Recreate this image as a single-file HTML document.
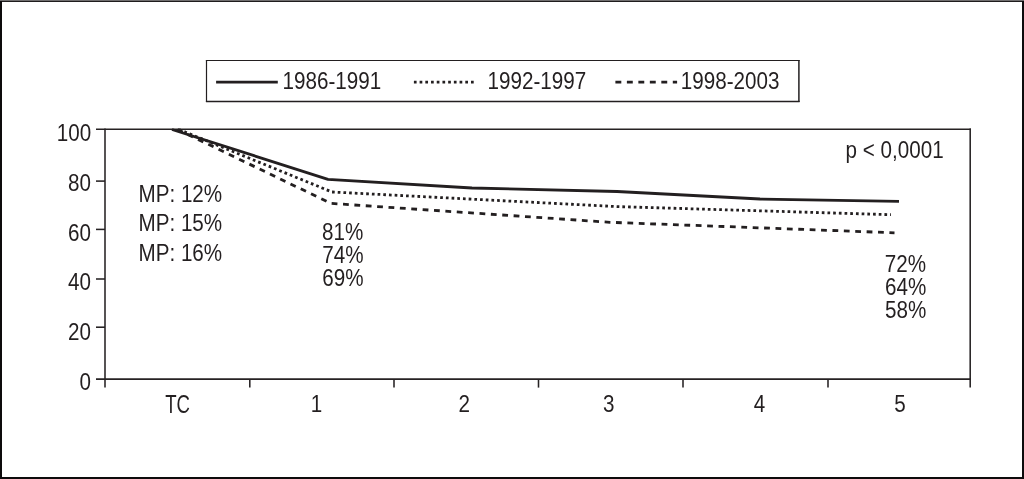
<!DOCTYPE html>
<html><head><meta charset="utf-8"><style>
html,body{margin:0;padding:0;background:#fff;width:1024px;height:479px;overflow:hidden}
svg{display:block;will-change:transform}
text{font-family:"Liberation Sans",sans-serif;font-size:24.4px;fill:#231f20}
</style></head><body>
<svg width="1024" height="479" viewBox="0 0 1024 479">
<rect x="0" y="0" width="1024" height="479" fill="#fff"/>
<!-- outer frame -->
<rect x="0" y="0" width="1024" height="1" fill="#706e6f"/>
<rect x="0" y="1" width="1024" height="1" fill="#1f1c1d"/>
<rect x="0" y="1" width="2" height="478" fill="#0d0b0c"/>
<rect x="1022" y="1" width="2" height="478" fill="#0d0b0c"/>
<rect x="0" y="477" width="1024" height="2" fill="#0d0b0c"/>

<!-- legend box -->
<g stroke="#231f20" fill="none">
<line x1="205.9" y1="60.5" x2="799.6" y2="60.5" stroke-width="1.2"/>
<line x1="205.9" y1="101.5" x2="799.6" y2="101.5" stroke-width="1.3"/>
<line x1="206.5" y1="60" x2="206.5" y2="102" stroke-width="1.2"/>
<line x1="798.9" y1="60" x2="798.9" y2="102" stroke-width="1.5"/>
</g>
<line x1="216.1" y1="82.1" x2="277.8" y2="82.1" stroke="#231f20" stroke-width="2.8"/>
<line x1="413.9" y1="82.2" x2="474.4" y2="82.2" stroke="#231f20" stroke-width="2.7" stroke-dasharray="2.7 3.01"/>
<line x1="615.4" y1="82.2" x2="677.1" y2="82.2" stroke="#231f20" stroke-width="2.7" stroke-dasharray="5.9 5.58"/>
<g transform="translate(282.5,89) scale(0.846,1)"><text x="0" y="0">1986-1991</text></g>
<g transform="translate(487.5,89) scale(0.846,1)"><text x="0" y="0">1992-1997</text></g>
<g transform="translate(680.8,89) scale(0.846,1)"><text x="0" y="0">1998-2003</text></g>

<!-- plot box & axes -->
<g stroke="#262223" fill="none" stroke-width="1.55">
<line x1="96" y1="129.15" x2="971" y2="129.15"/>
<line x1="970.2" y1="128.4" x2="970.2" y2="387.6"/>
<line x1="105" y1="128.4" x2="105" y2="387.6"/>
<line x1="96" y1="379.1" x2="971" y2="379.1"/>
<line x1="96" y1="181.1" x2="105" y2="181.1"/>
<line x1="96" y1="229.4" x2="105" y2="229.4"/>
<line x1="96" y1="279" x2="105" y2="279"/>
<line x1="96" y1="327.2" x2="105" y2="327.2"/>
<line x1="249.8" y1="379" x2="249.8" y2="387.6"/>
<line x1="394" y1="379" x2="394" y2="387.6"/>
<line x1="538.5" y1="379" x2="538.5" y2="387.6"/>
<line x1="683" y1="379" x2="683" y2="387.6"/>
<line x1="828" y1="379" x2="828" y2="387.6"/>
</g>

<!-- y labels -->
<g transform="translate(91.2,140.6) scale(0.846,1)"><text text-anchor="end">100</text></g>
<g transform="translate(91,190.6) scale(0.846,1)"><text text-anchor="end">80</text></g>
<g transform="translate(91,240.6) scale(0.846,1)"><text text-anchor="end">60</text></g>
<g transform="translate(91,290.4) scale(0.846,1)"><text text-anchor="end">40</text></g>
<g transform="translate(91,340.4) scale(0.846,1)"><text text-anchor="end">20</text></g>
<g transform="translate(91,390.2) scale(0.846,1)"><text text-anchor="end">0</text></g>

<!-- x labels -->
<g transform="translate(177.6,412.6) scale(0.762,1.04)"><text text-anchor="middle">TC</text></g>
<g transform="translate(316.5,412.2) scale(0.846,1)"><text text-anchor="middle">1</text></g>
<g transform="translate(464.3,412.2) scale(0.846,1)"><text text-anchor="middle">2</text></g>
<g transform="translate(608.8,412.2) scale(0.846,1)"><text text-anchor="middle">3</text></g>
<g transform="translate(759.5,412.2) scale(0.846,1)"><text text-anchor="middle">4</text></g>
<g transform="translate(900,412.2) scale(0.846,1)"><text text-anchor="middle">5</text></g>

<!-- annotations -->
<g transform="translate(845.6,157.6) scale(0.846,1)"><text>p &lt; 0,0001</text></g>
<g transform="translate(138.5,201.6) scale(0.846,1)"><text>MP: 12%</text></g>
<g transform="translate(138.5,231.3) scale(0.846,1)"><text>MP: 15%</text></g>
<g transform="translate(138.5,260.9) scale(0.846,1)"><text>MP: 16%</text></g>
<g transform="translate(322,240.3) scale(0.846,1)"><text>81%</text></g>
<g transform="translate(322.2,263.2) scale(0.846,1)"><text>74%</text></g>
<g transform="translate(322.3,285.8) scale(0.846,1)"><text>69%</text></g>
<g transform="translate(884.8,271.5) scale(0.846,1)"><text>72%</text></g>
<g transform="translate(885,294.6) scale(0.846,1)"><text>64%</text></g>
<g transform="translate(885,317.6) scale(0.846,1)"><text>58%</text></g>

<!-- data lines -->
<g fill="none" stroke="#231f20" stroke-width="2.8" stroke-linejoin="round">
<polyline points="172,129.5 328,179.3 472,188 617,191.5 760,199 899,201.3"/>
<polyline stroke-dasharray="2.7 3" points="179,129.5 332,192 617,206.6 891,214.7"/>
<polyline stroke-dasharray="5.8 5.6" points="177.5,129.5 331,203.4 610,222.3 894.5,232.8"/>
</g>
</svg>
</body></html>
